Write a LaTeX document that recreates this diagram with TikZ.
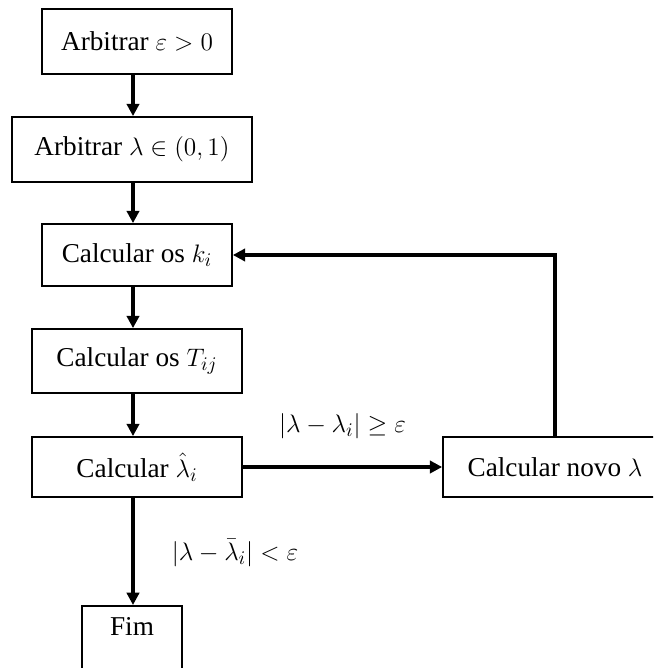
\documentclass[tikz,border=0pt]{standalone}
\usepackage{amsmath}
\usepackage{fontspec}
\setmainfont{Liberation Serif}
\usetikzlibrary{positioning,arrows.meta,calc}

\begin{document}
\begin{tikzpicture}[x=0.02cm, y=-0.02cm, font=\fontsize{15.5}{18}\selectfont, >={Triangle[length=7pt, width=7pt]},
    procbox/.style={draw, line width=1pt, minimum height=#1*0.02cm, inner sep=2pt},
    procbox/.default=64,
    flow/.style={->, line width=1.8pt}]
  \useasboundingbox (0,0) rectangle (653,668);
  \clip (0,0) rectangle (653,668);
  % Main column: setup, then the loop over k_i, T_ij and the estimate.
  \node[procbox=65, minimum width=190*0.02cm] (arbEps) at (137,41.5) {Arbitrar $\varepsilon > 0$};
  \node[procbox=65, minimum width=240*0.02cm] (arbLam) at (132,149.5) {Arbitrar $\lambda \in (0,1)$};
  \node[procbox=62, minimum width=190*0.02cm] (calcK) at (137,255) {Calcular os $k_i$};
  \node[procbox=64, minimum width=210*0.02cm] (calcT) at (137,361) {Calcular os $T_{ij}$};
  \node[procbox=60, minimum width=210*0.02cm] (calcHat) at (137,467) {Calcular $\hat{\lambda}_i$};
  \node[procbox=60, minimum width=224*0.02cm] (calcNew) at (555,467) {Calcular novo $\lambda$};
  \node[procbox=10, minimum width=100*0.02cm, anchor=north, text height=15pt, text depth=30pt] (fim) at (132,605) {Fim};
  \coordinate (colX) at (133,0);
  \foreach \a/\b in {arbEps/arbLam, arbLam/calcK, calcK/calcT, calcT/calcHat, calcHat/fim} {
    \draw[flow] (\a.south -| colX) -- (\b.north -| colX);
  }
  % Branch to the right while the error is still too large, then back up.
  \draw[flow] (calcHat.east) -- (calcNew.west)
    node[midway, above=12pt] (lblGe) {$|\lambda - \lambda_i| \geq \varepsilon$};
  \draw[flow] (calcNew.north) |- (calcK.east);
  \node (lblLt) at (235,553) {$|\lambda - \bar{\lambda}_i| < \varepsilon$};
\end{tikzpicture}
\end{document}
